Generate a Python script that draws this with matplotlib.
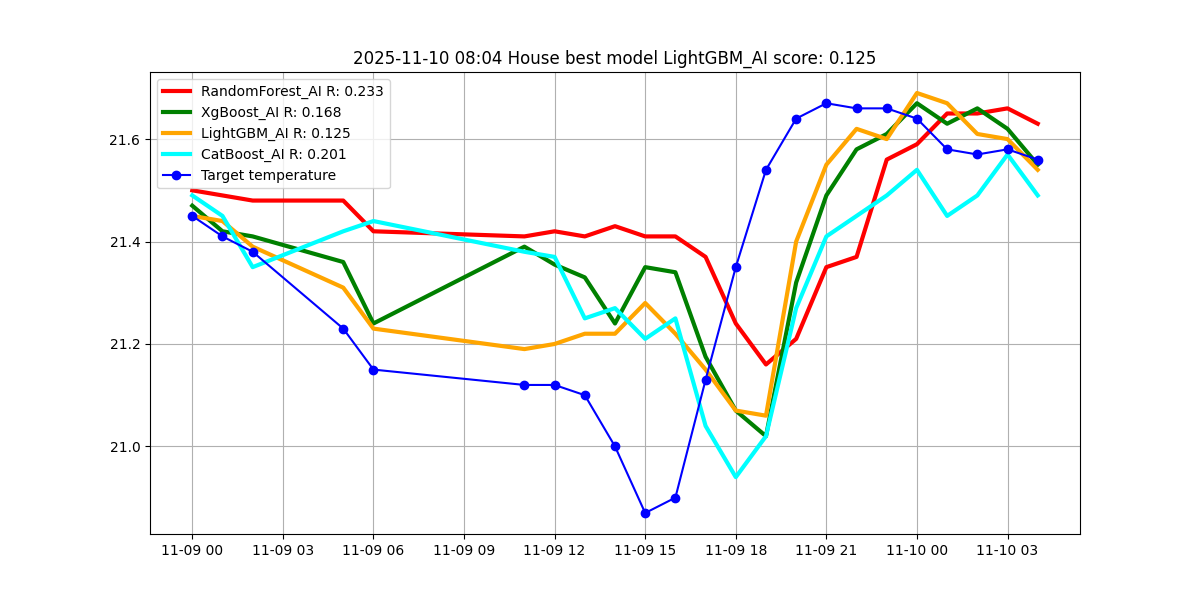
import matplotlib
matplotlib.use("Agg")
import matplotlib.pyplot as plt
import matplotlib.dates as mdates
import pandas as pd

# hourly timestamps (some hours missing in the data)
times = pd.to_datetime([
    "2025-11-09 00:00", "2025-11-09 01:00", "2025-11-09 02:00", "2025-11-09 05:00",
    "2025-11-09 06:00", "2025-11-09 11:00", "2025-11-09 12:00", "2025-11-09 13:00",
    "2025-11-09 14:00", "2025-11-09 15:00", "2025-11-09 16:00", "2025-11-09 17:00",
    "2025-11-09 18:00", "2025-11-09 19:00", "2025-11-09 20:00", "2025-11-09 21:00",
    "2025-11-09 22:00", "2025-11-09 23:00", "2025-11-10 00:00", "2025-11-10 01:00",
    "2025-11-10 02:00", "2025-11-10 03:00", "2025-11-10 04:00",
])

random_forest = [21.50, 21.49, 21.48, 21.48, 21.42, 21.41, 21.42, 21.41, 21.43, 21.41, 21.41, 21.37,
                 21.24, 21.16, 21.21, 21.35, 21.37, 21.56, 21.59, 21.65, 21.65, 21.66, 21.63]
xgboost = [21.47, 21.42, 21.41, 21.36, 21.24, 21.39, 21.355, 21.33, 21.24, 21.35, 21.34, 21.175,
           21.07, 21.02, 21.32, 21.49, 21.58, 21.61, 21.67, 21.63, 21.66, 21.62, 21.55]
lightgbm = [21.45, 21.44, 21.39, 21.31, 21.23, 21.19, 21.20, 21.22, 21.22, 21.28, 21.22, 21.15,
            21.07, 21.06, 21.40, 21.55, 21.62, 21.60, 21.69, 21.67, 21.61, 21.60, 21.54]
catboost = [21.49, 21.45, 21.35, 21.42, 21.44, 21.38, 21.37, 21.25, 21.27, 21.21, 21.25, 21.04,
            20.94, 21.02, 21.27, 21.41, 21.45, 21.49, 21.54, 21.45, 21.49, 21.57, 21.49]
target = [21.45, 21.41, 21.38, 21.23, 21.15, 21.12, 21.12, 21.10, 21.00, 20.87, 20.90, 21.13,
          21.35, 21.54, 21.64, 21.67, 21.66, 21.66, 21.64, 21.58, 21.57, 21.58, 21.56]

fig, ax = plt.subplots(figsize=(12, 6), dpi=100)

ax.plot(times, random_forest, color="red", linewidth=3, label="RandomForest_AI R: 0.233")
ax.plot(times, xgboost, color="green", linewidth=3, label="XgBoost_AI R: 0.168")
ax.plot(times, lightgbm, color="orange", linewidth=3, label="LightGBM_AI R: 0.125")
ax.plot(times, catboost, color="cyan", linewidth=3, label="CatBoost_AI R: 0.201")
ax.plot(times, target, color="blue", marker="o", label="Target temperature")

ax.xaxis.set_major_locator(mdates.HourLocator(interval=3))
ax.xaxis.set_major_formatter(mdates.DateFormatter("%m-%d %H"))
ax.grid(True)
ax.legend(loc="upper left")
ax.set_title("2025-11-10 08:04 House best model LightGBM_AI score: 0.125")

plt.savefig("out.png")
